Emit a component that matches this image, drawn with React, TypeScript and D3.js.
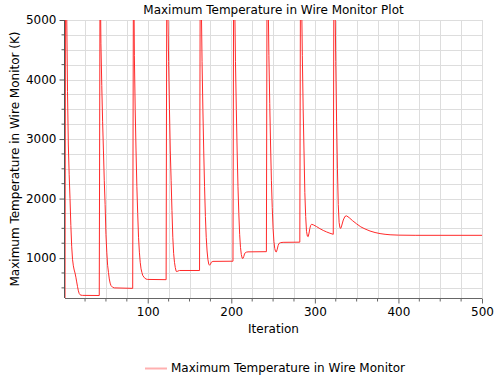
import { useEffect, useRef } from "react";
import * as d3 from "d3";

// iteration / temperature pairs, one row per restart cycle
const iterations: number[] = [
    1, 2, 3, 4, 5, 6, 7, 8, 9, 10, 11, 12, 13, 14, 15, 16, 17, 18, 19, 20, 22, 42,
    43, 44, 45, 46, 47, 48, 49, 50, 51, 52, 53, 54, 55, 56, 58, 60, 82,
    83, 84, 85, 86, 87, 88, 89, 90, 91, 92, 93, 94, 96, 98, 100, 122,
    123, 124, 125, 126, 127, 128, 129, 130, 131, 132, 133, 134, 135, 136, 138, 162,
    163, 164, 165, 166, 167, 168, 169, 170, 171, 172, 173, 174, 175, 176, 178, 202,
    203, 204, 205, 206, 207, 208, 209, 210, 211, 212, 213, 214, 215, 216, 218, 220, 242,
    243, 244, 245, 246, 247, 248, 249, 250, 251, 252, 253, 254, 255, 256, 257, 259, 262, 282,
    283, 284, 285, 286, 287, 288, 289, 290, 291, 292, 293, 294, 295, 296, 298, 302, 306, 310, 314, 318, 322,
    323, 324, 325, 326, 327, 328, 329, 330, 331, 332, 334, 336, 338, 341, 345, 350, 355, 360, 366, 372, 378, 384, 390, 400, 420, 500,
];
const temperature: number[] = [
    300, 9000, 5200, 3800, 2900, 2400, 2000, 1550, 1200, 980, 870, 800, 750, 680, 600, 520, 450, 405, 385, 378, 374, 372,
    6000, 4600, 3900, 3300, 2800, 2300, 1900, 1400, 1100, 880, 760, 650, 580, 540, 510, 500, 492,
    6500, 4400, 3500, 2800, 2200, 1750, 1350, 1100, 930, 820, 760, 710, 670, 648, 642, 638,
    7000, 5300, 4300, 3500, 2800, 2300, 1800, 1350, 1080, 930, 840, 780, 772, 782, 792, 792,
    7000, 5400, 4300, 3500, 2800, 2200, 1700, 1350, 1120, 980, 900, 880, 895, 930, 945, 948,
    7000, 5400, 4300, 3500, 2800, 2200, 1750, 1400, 1180, 1060, 1000, 995, 1030, 1080, 1100, 1105, 1108,
    7000, 5500, 4400, 3600, 2900, 2300, 1850, 1500, 1280, 1160, 1110, 1105, 1150, 1210, 1245, 1260, 1265, 1268,
    7000, 5500, 4400, 3500, 2800, 2100, 1700, 1450, 1370, 1360, 1420, 1500, 1550, 1568, 1560, 1530, 1495, 1465, 1440, 1418, 1400,
    7000, 5500, 4300, 3300, 2500, 1900, 1600, 1510, 1500, 1540, 1640, 1700, 1710, 1680, 1630, 1575, 1525, 1490, 1455, 1430, 1412, 1400, 1392, 1386, 1383, 1383,
];

const xTicks = [100, 200, 300, 400, 500];
const xMinorTicks = [25, 50, 75, 125, 150, 175, 225, 250, 275, 325, 350, 375, 425, 450, 475];
const yTicks = [1000, 2000, 3000, 4000, 5000];
const yMinorTicks = [500, 750, 1250, 1500, 1750, 2250, 2500, 2750, 3250, 3500, 3750, 4250, 4500, 4750];

const title = "Maximum Temperature in Wire Monitor Plot";
const xTitle = "Iteration";
const yTitle = "Maximum Temperature in Wire Monitor (K)";
const seriesName = "Maximum Temperature in Wire Monitor";

const App = () => {
    const ref = useRef<SVGSVGElement>(null);

    useEffect(() => {
        const svg = d3.select(ref.current);
        svg.selectAll("*").remove();

        const font = "DejaVu Sans, sans-serif";
        const left = 65, right = 482, top = 20, bottom = 298;

        var x = d3.scaleLinear().domain([1, 500]).range([left, right]);
        var y = d3.scaleLinear().domain([330, 5000]).range([bottom, top]);

        svg.append("rect").attr("width", 502).attr("height", 386).attr("fill", "white");

        // grid
        const grid = svg.append("g").attr("stroke", "#dddddd").attr("stroke-width", 1);
        [...xTicks, ...xMinorTicks].forEach((t) => {
            grid.append("line")
                .attr("x1", Math.round(x(t)) + 0.5).attr("x2", Math.round(x(t)) + 0.5)
                .attr("y1", top).attr("y2", bottom);
        });
        [...yTicks, ...yMinorTicks].forEach((t) => {
            grid.append("line")
                .attr("x1", left).attr("x2", right)
                .attr("y1", Math.round(y(t)) + 0.5).attr("y2", Math.round(y(t)) + 0.5);
        });

        // the data line, clipped to the plot area
        svg.append("clipPath").attr("id", "plotClip")
            .append("rect").attr("x", left).attr("y", top)
            .attr("width", right - left).attr("height", bottom - top);

        const pts: [number, number][] = iterations.map((it, i) => [it, temperature[i]]);
        const line = d3.line<[number, number]>()
            .x((d) => x(d[0]))
            .y((d) => y(d[1]));
        svg.append("path")
            .datum(pts)
            .attr("clip-path", "url(#plotClip)")
            .attr("fill", "none")
            .attr("stroke", "#ff2a2a")
            .attr("stroke-width", 1)
            .attr("d", line);

        // axes
        const xAxis = svg.append("g")
            .attr("transform", `translate(0, ${bottom + 0.5})`)
            .call(d3.axisBottom(x).tickValues(xTicks).tickFormat(d3.format("d")).tickSize(5).tickPadding(4));
        xAxis.selectAll(".tick text").attr("font-size", 12).attr("font-family", font).attr("fill", "#000");
        xAxis.call((g) => g.selectAll("path, line").attr("stroke", "#666"));
        xAxis.select(".domain").attr("d", `M${left},0H${right}`);
        xMinorTicks.forEach((t) => {
            xAxis.append("line").attr("x1", x(t)).attr("x2", x(t)).attr("y1", 0).attr("y2", 3).attr("stroke", "#666");
        });

        const yAxis = svg.append("g")
            .attr("transform", `translate(${left - 0.5}, 0)`)
            .call(d3.axisLeft(y).tickValues(yTicks).tickFormat(d3.format("d")).tickSize(5).tickPadding(3));
        yAxis.selectAll(".tick text").attr("font-size", 12).attr("font-family", font).attr("fill", "#000");
        yAxis.call((g) => g.selectAll("path, line").attr("stroke", "#555"));
        yAxis.select(".domain").attr("d", `M0,${top}V${bottom}`);
        yMinorTicks.forEach((t) => {
            yAxis.append("line").attr("x1", 0).attr("x2", -3).attr("y1", y(t)).attr("y2", y(t)).attr("stroke", "#555");
        });

        // titles
        svg.append("text")
            .attr("x", (left + right) / 2).attr("y", 14)
            .attr("text-anchor", "middle").attr("font-size", 12).attr("font-family", font)
            .text(title);
        svg.append("text")
            .attr("x", (left + right) / 2).attr("y", 333)
            .attr("text-anchor", "middle").attr("font-size", 12).attr("font-family", font)
            .text(xTitle);
        svg.append("text")
            .attr("transform", `translate(19, ${(top + bottom) / 2}) rotate(-90)`)
            .attr("text-anchor", "middle").attr("font-size", 12).attr("font-family", font)
            .text(yTitle);

        // legend
        const legend = svg.append("g").attr("transform", "translate(145, 368)");
        legend.append("line").attr("x1", 0).attr("x2", 22).attr("y1", 0.5).attr("y2", 0.5)
            .attr("stroke", "#ffb0b0").attr("stroke-width", 2);
        legend.append("text").attr("x", 26).attr("y", 4)
            .attr("font-size", 12).attr("font-family", font).text(seriesName);
    }, []);

    return (
        <svg ref={ref} width={502} height={386}
            style={{ position: "absolute", left: 0, top: 0 }} />
    );
};

export default App;
